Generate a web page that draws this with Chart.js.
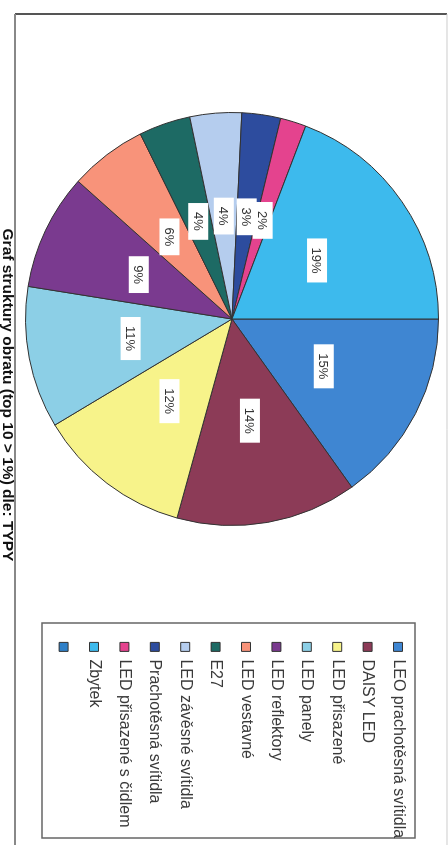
<!DOCTYPE html>
<html>
<head>
<meta charset="utf-8">
<script src="https://cdn.jsdelivr.net/npm/chart.js@4/dist/chart.umd.min.js"></script>
<style>
  html, body { margin: 0; padding: 0; background: #fff; overflow: hidden; }
  #wrap {
    position: absolute; left: 0; top: 0;
    width: 845px; height: 448px;
    transform-origin: 0 0;
    transform: translateX(448px) rotate(90deg);
  }
</style>
</head>
<body>
<div id="wrap"><canvas id="pie" width="845" height="448"></canvas></div>
<script>
const typy = [
    'LEO prachotěsná svítidla',
    'DAISY LED',
    'LED přisazené',
    'LED panely',
    'LED reflektory',
    'LED vestavné',
    'E27',
    'LED závěsné svítidla',
    'Prachotěsná svítidla',
    'LED přisazené s čidlem',
    'Zbytek',
    ''
];
const podil = [15, 14, 12, 11, 9, 6, 4, 4, 3, 2, 19, 0];
const barvy = [
    '#3f86d2', '#8c3b57', '#f7f38a', '#8ccfe6', '#7a3a8f', '#f8937a',
    '#1d6a64', '#b5cdee', '#2d4c9e', '#e4438e', '#3dbaed', '#2f80c8'
];
const nadpis = 'Graf struktury obratu (top 10 > 1%) dle: TYPY';

const font = 'Liberation Sans, Arial, sans-serif';

// pins the pie, legend and caption to fixed boxes inside the frame
const placeBoxes = {
    id: 'placeBoxes',
    afterLayout(chart) {
        Object.assign(chart.chartArea, { left: 112, right: 526, top: 9, bottom: 423, width: 414, height: 414 });
        const lg = chart.legend;
        lg.left = 628; lg.right = 840; lg.top = 27; lg.bottom = 407.4;
        lg.width = lg.right - lg.left; lg.height = lg.bottom - lg.top;
        const t = chart.titleBlock;
        t.left = 0; t.right = 790; t.top = 431.5; t.bottom = 450;
        t.width = 790; t.height = 18.5;
    },
    beforeDraw(chart) {
        const ctx = chart.ctx;
        ctx.save();
        ctx.fillStyle = '#fff';
        ctx.fillRect(0, 0, chart.width, chart.height);
        // outer frame
        ctx.strokeStyle = '#555';
        ctx.lineWidth = 2;
        ctx.beginPath();
        ctx.moveTo(14, 1); ctx.lineTo(14, 433); ctx.stroke();
        ctx.strokeStyle = '#888';
        ctx.beginPath();
        ctx.moveTo(14, 433); ctx.lineTo(845, 433); ctx.stroke();
        ctx.strokeStyle = '#ccc';
        ctx.lineWidth = 1;
        ctx.beginPath();
        ctx.moveTo(14, 1); ctx.lineTo(845, 1); ctx.stroke();
        // legend frame
        ctx.strokeStyle = '#666';
        ctx.lineWidth = 1.5;
        ctx.strokeRect(623, 33, 215, 373);
        ctx.restore();
    }
};

// white boxes with the percentage in each slice
const sliceLabels = {
    id: 'sliceLabels',
    afterDatasetsDraw(chart) {
        const ctx = chart.ctx;
        const meta = chart.getDatasetMeta(0);
        ctx.save();
        ctx.font = '13px ' + font;
        ctx.textAlign = 'center';
        ctx.textBaseline = 'middle';
        meta.data.forEach((arc, i) => {
            if (!podil[i]) return;
            const p = arc.getCenterPoint();
            const txt = podil[i] + '%';
            const w = ctx.measureText(txt).width + 18;
            const h = 20;
            ctx.fillStyle = '#fff';
            ctx.fillRect(p.x - w / 2, p.y - h / 2, w, h);
            ctx.fillStyle = '#333';
            ctx.fillText(txt, p.x, p.y + 1);
        });
        ctx.restore();
    }
};

new Chart(document.getElementById('pie'), {
    type: 'pie',
    data: {
        labels: typy,
        datasets: [{
            data: podil,
            backgroundColor: barvy,
            borderColor: '#333',
            borderWidth: 1
        }]
    },
    options: {
        responsive: false,
        animation: false,
        events: [],
        plugins: {
            tooltip: { enabled: false },
            legend: {
                position: 'right',
                labels: {
                    boxWidth: 9,
                    boxHeight: 9,
                    padding: 14.4,
                    color: '#3a3a3a',
                    font: { family: font, size: 16 }
                }
            },
            title: {
                display: true,
                position: 'bottom',
                text: nadpis,
                color: '#111',
                padding: 0,
                font: { family: font, size: 15.5, weight: 'bold' }
            }
        }
    },
    plugins: [placeBoxes, sliceLabels]
});
</script>
</body>
</html>
